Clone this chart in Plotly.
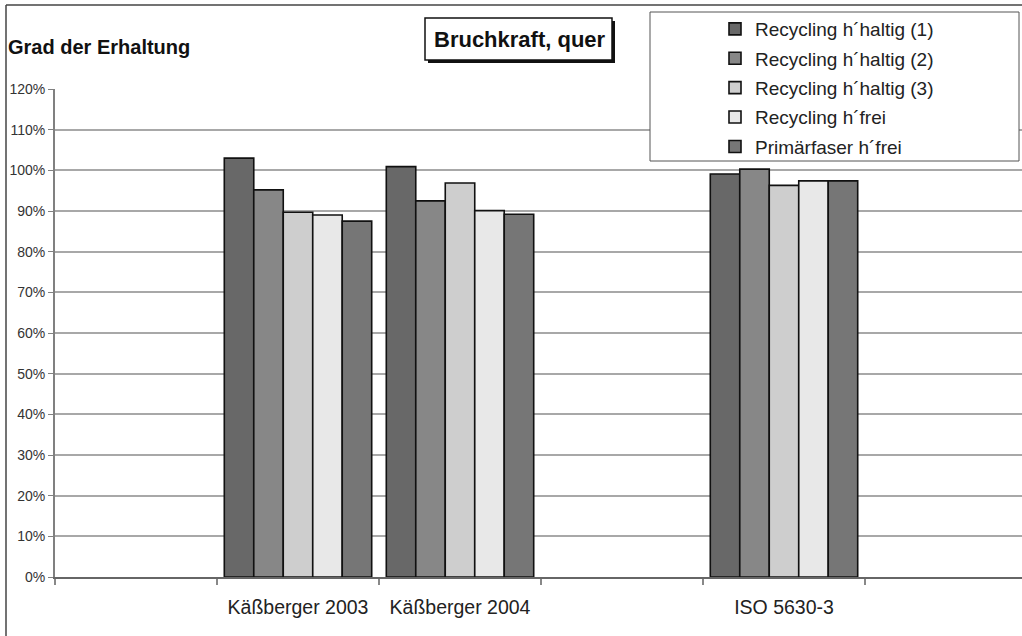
import plotly.graph_objects as go

# Daten
kategorien = [" ", "Käßberger 2003", "Käßberger 2004", "  ", "ISO 5630-3", "   "]
gruppen = ["Käßberger 2003", "Käßberger 2004", "ISO 5630-3"]
serien = [
    "Recycling h´haltig (1)",
    "Recycling h´haltig (2)",
    "Recycling h´haltig (3)",
    "Recycling h´frei",
    "Primärfaser h´frei",
]
recycling_1 = [1.030, 1.009, 0.991]
recycling_2 = [0.952, 0.925, 1.003]
recycling_3 = [0.897, 0.969, 0.963]
recycling_frei = [0.890, 0.901, 0.974]
primaer_frei = [0.875, 0.892, 0.974]
y_ticks = [i / 10 for i in range(13)]

werte = [recycling_1, recycling_2, recycling_3, recycling_frei, primaer_frei]
farben = ["#686868", "#878787", "#cecece", "#e8e8e8", "#767676"]

W, H = 1022, 636
L, R, T, B = 55, 0, 89, 59
PW, PH = W - L - R, H - T - B


def px(x):
    return (x - L) / PW


def py(y):
    return 1 - (y - T) / PH


FONT = "Liberation Sans, Arial, sans-serif"

fig = go.Figure()
for i, (name, vals) in enumerate(zip(serien, werte)):
    fig.add_trace(go.Bar(
        x=gruppen, y=vals, name=name,
        marker=dict(color=farben[i], line=dict(color="#111111", width=1.6)),
        legendgroup=f"g{i}",
    ))

shapes = [
    # äußerer Rahmen (links/oben)
    dict(type="line", xref="paper", yref="paper", x0=px(6), x1=px(6), y0=py(H + 5), y1=py(5),
         line=dict(color="#444444", width=1.5), layer="above"),
    dict(type="line", xref="paper", yref="paper", x0=px(6), x1=px(W + 5), y0=py(5), y1=py(5),
         line=dict(color="#444444", width=1.5), layer="above"),
    # Legendenkasten
    dict(type="rect", xref="paper", yref="paper", x0=px(650), x1=px(1019), y0=py(161), y1=py(12),
         fillcolor="white", line=dict(color="#555555", width=1), layer="above"),
    # Titelkasten mit Schatten
    dict(type="rect", xref="paper", yref="paper", x0=px(428), x1=px(615), y0=py(63), y1=py(21),
         fillcolor="#111111", line=dict(width=0), layer="above"),
    dict(type="rect", xref="paper", yref="paper", x0=px(425), x1=px(612), y0=py(60), y1=py(18),
         fillcolor="white", line=dict(color="#111111", width=1.5), layer="above"),
]

annotations = [
    dict(text="<b>Bruchkraft, quer</b>", xref="paper", yref="paper", x=px(520), y=py(39.5),
         xanchor="center", yanchor="middle", showarrow=False,
         font=dict(family=FONT, size=22, color="#111111")),
    dict(text="<b>Grad der Erhaltung</b>", xref="paper", yref="paper", x=px(6), y=py(47),
         xanchor="left", yanchor="middle", showarrow=False,
         font=dict(family=FONT, size=20, color="#111111")),
]

fig.update_layout(
    width=W, height=H,
    margin=dict(l=L, r=R, t=T, b=B, pad=0),
    paper_bgcolor="white", plot_bgcolor="white",
    barmode="group", bargap=0.09, bargroupgap=0,
    font=dict(family=FONT, color="#222222"),
    shapes=shapes, annotations=annotations,
    legend=dict(
        x=px(715), y=py(10), xanchor="left", yanchor="top",
        bgcolor="rgba(0,0,0,0)", borderwidth=0,
        font=dict(family=FONT, size=19, color="#222222"),
        tracegroupgap=1.7, traceorder="grouped",
    ),
    showlegend=True,
)

fig.update_xaxes(
    type="category", categoryorder="array", categoryarray=kategorien,
    range=[-0.5, -0.5 + PW / 162.0],
    showgrid=False, showline=True, linecolor="#666666", linewidth=2,
    ticks="outside", tickson="boundaries", ticklen=6, tickcolor="#888888", tickwidth=1.5,
    tickfont=dict(family=FONT, size=19.5, color="#222222"),
    ticklabelstandoff=12,
    zeroline=False,
)

fig.update_yaxes(
    range=[0, 1.2], tickvals=y_ticks, tickformat=".0%",
    showgrid=True, gridcolor="#a8a8a8", gridwidth=1.5,
    showline=True, linecolor="#808080", linewidth=2,
    ticks="outside", ticklen=5, tickcolor="#808080",
    tickfont=dict(family=FONT, size=14, color="#333333"),
    zeroline=False,
)

# Seitenrand des Browsers entfernen, damit die Grafik bei (0,0) beginnt
fig.write_html("out.html", config={"displayModeBar": False},
               post_script="document.body.style.margin='0';")
